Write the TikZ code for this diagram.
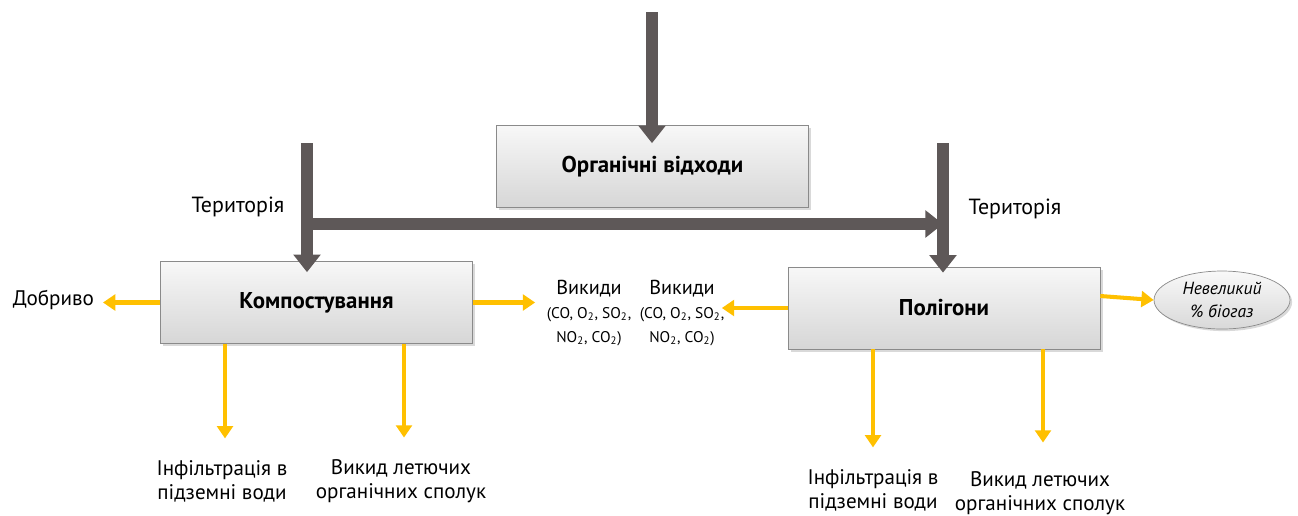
\documentclass[tikz,border=0pt]{standalone}
\usepackage{fontspec}
\setmainfont{PT Sans}
\usepackage{tikz}
\usetikzlibrary{
  arrows.meta,
  calc,
  shadows,
  shapes.geometric
}
\definecolor{wasteGray}{HTML}{5E5858}
\definecolor{wasteEdge}{HTML}{8A8A8A}
\definecolor{wasteYellow}{HTML}{FFC000}
\tikzset{
  wasteBox/.style={
    draw=wasteEdge,
    top color=gray!6,
    bottom color=gray!32,
    drop shadow={shadow xshift=1.5pt, shadow yshift=-1.5pt, opacity=0.3},
    align=center,
    font=\bfseries\fontsize{13}{15}\selectfont,
    minimum width=6.24cm,
    minimum height=1.64cm
  },
  flowArrow/.style={
    wasteGray, line width=6.5pt,
    -{Triangle[width=15pt, length=10pt]}
  },
  outArrow/.style={
    wasteYellow, line width=2.3pt,
    -{Triangle[width=9pt, length=7pt]}
  },
  outText/.style={
    align=center,
    font=\fontsize{12}{13.6}\selectfont,
    inner sep=2pt
  },
  emisText/.style={
    align=center,
    font=\fontsize{8.8}{13.4}\selectfont,
    inner sep=3pt
  },
  gasEllipse/.style={
    ellipse,
    draw=wasteEdge,
    top color=gray!5,
    bottom color=gray!30,
    drop shadow={shadow xshift=1.2pt, shadow yshift=-1.2pt, opacity=0.3},
    minimum width=2.72cm,
    minimum height=1.16cm,
    inner sep=0pt,
    align=center,
    font=\itshape\fontsize{10}{13}\selectfont
  }
}
\begin{document}
\begin{tikzpicture}[x=0.02cm,y=-0.02cm]
  \useasboundingbox (0,0) rectangle (1298,515);

  % main boxes
  \node[wasteBox] (waste) at (652.5,166.5) {Органічні відходи};
  \node[wasteBox] (komp) at (316.5,302.5) {Компостування};
  \node[wasteBox] (polig) at (944,308) {Полігони};
  \node[gasEllipse] (biogas) at (1222,300) {Невеликий\\\% біогаз};

  % labels
  \node[outText, font=\fontsize{12.5}{14}\selectfont] (terLeft) at (238,207) {Територія};
  \node[outText, font=\fontsize{12.5}{14}\selectfont] (terRight) at (1015,209) {Територія};
  \node[outText, anchor=east, inner sep=5pt] (dobryvo) at (103,300) {Добриво};
  \node[emisText] (emisLeft) at (589,313)
    {{\fontsize{11.5}{13}\selectfont Викиди}\\(CO, O\textsubscript{2}, SO\textsubscript{2},\\NO\textsubscript{2}, CO\textsubscript{2})};
  \node[emisText] (emisRight) at (682,313)
    {{\fontsize{11.5}{13}\selectfont Викиди}\\(CO, O\textsubscript{2}, SO\textsubscript{2},\\NO\textsubscript{2}, CO\textsubscript{2})};
  \node[outText] (infilLeft) at (222,481) {Інфільтрація в\\підземні води};
  \node[outText] (volLeft) at (401,481) {Викид летючих\\органічних сполук};
  \node[outText] (infilRight) at (873,490) {Інфільтрація в\\підземні води};
  \node[outText] (volRight) at (1040,493) {Викид летючих\\органічних сполук};

  % gray feed arrows
  \coordinate (topStart) at (652,12);
  \coordinate (leftTop) at (307,143);
  \coordinate (rightTop) at (943,143);
  \coordinate (junction) at (307,224);
  \draw[flowArrow] (topStart) -- ($(topStart |- waste.north)+(0,18)$);
  \draw[flowArrow] (junction) -- (junction -| rightTop);
  \draw[flowArrow] (leftTop) -- ($(leftTop |- komp.north)+(0,11)$);
  \draw[flowArrow] (rightTop) -- ($(rightTop |- polig.north)+(0,6)$);

  % yellow output arrows
  \draw[outArrow] (komp.west) -- (komp.west -| dobryvo.east);
  \draw[outArrow] (komp.east) -- ($(komp.east -| emisLeft.west)+(-6,0)$);
  \draw[outArrow] (polig.west) -- ($(polig.west -| emisRight.east)+(-8,0)$);
  \draw[outArrow] ($(polig.east)+(0,-12)$) -- (biogas.west);
  \draw[outArrow] ($(komp.south -| infilLeft)+(3,0)$) -- ($(infilLeft.north)+(3,-18)$);
  \draw[outArrow] ($(komp.south -| volLeft)+(3,0)$) -- ($(volLeft.north)+(3,-18)$);
  \draw[outArrow] (polig.south -| infilRight) -- ($(infilRight.north)+(0,-18)$);
  \draw[outArrow] ($(polig.south -| volRight)+(3,0)$) -- ($(volRight.north)+(3,-25)$);
\end{tikzpicture}
\end{document}
